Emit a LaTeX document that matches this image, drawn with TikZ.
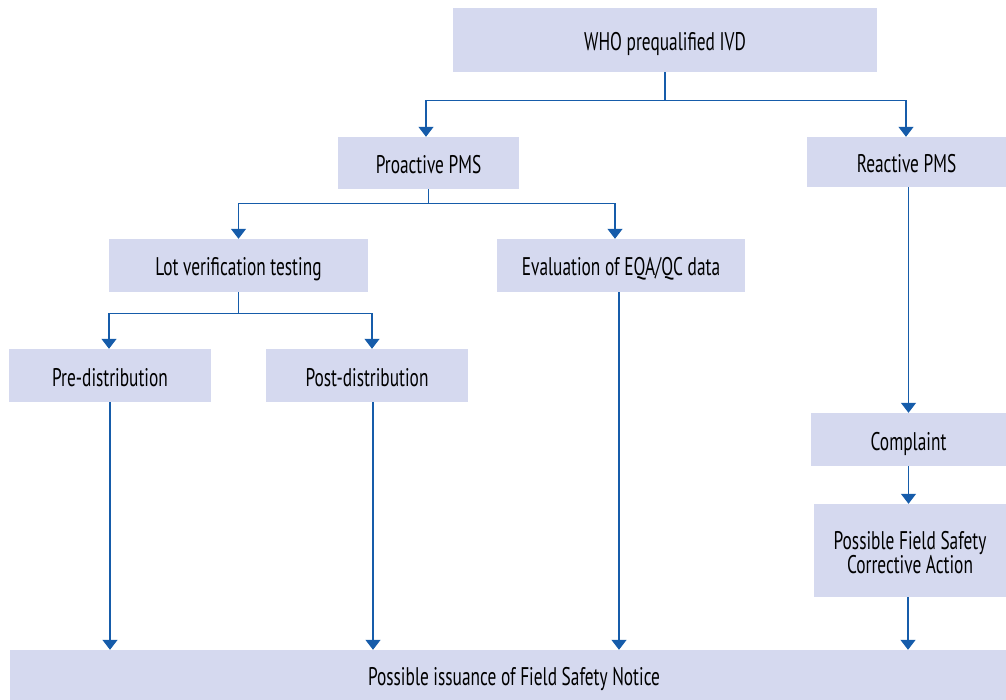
\documentclass[tikz,border=0pt]{standalone}
\usepackage{fontspec}
\setmainfont{PT Sans}[FakeStretch=0.68]
\usetikzlibrary{arrows.meta}
\definecolor{boxfill}{RGB}{213,217,239}
\definecolor{linecol}{RGB}{22,92,170}
\tikzset{
  box/.style={fill=boxfill, draw=none, inner sep=0pt, align=center,
    font=\fontsize{25.5}{24}\selectfont, text=black,
    text height=21pt, text depth=0pt},
  conn/.style={draw=linecol, line width=1.3pt},
  arr/.style={conn, -{Triangle[width=15pt,length=10pt]}, shorten >=0pt},
}
\begin{document}
\begin{tikzpicture}[x=1pt,y=-1pt]
\useasboundingbox (0,0) rectangle (1006,700);
\node[box, minimum width=424pt, minimum height=64pt] (who) at (665,40) {WHO prequalified IVD};
\node[box, minimum width=181pt, minimum height=52pt] (pro) at (428.5,163) {Proactive PMS};
\node[box, minimum width=199pt, minimum height=50pt] (rea) at (906.5,162) {Reactive PMS};
\node[box, minimum width=259pt, minimum height=53pt] (lot) at (238.5,265.5) {Lot verification testing};
\node[box, minimum width=248pt, minimum height=53pt] (eva) at (621,265.5) {Evaluation of EQA/QC data};
\node[box, minimum width=202pt, minimum height=53pt] (pre) at (110,375.5) {Pre-distribution};
\node[box, minimum width=202pt, minimum height=53pt] (post) at (367,375.5) {Post-distribution};
\node[box, minimum width=195pt, minimum height=53pt] (comp) at (908.5,439.5) {Complaint};
\node[box, minimum width=192pt, minimum height=93pt, text height=45pt] (fsca) at (910,550.5) {Possible Field Safety\\Corrective Action};
\node[box, minimum width=996pt, minimum height=50pt] (bot) at (508,675) {\hspace*{12pt}Possible issuance of Field Safety Notice};
% top level
\draw[conn] (who.south) -- ++(0,28) coordinate (j1);
\draw[arr] (j1) -| ([xshift=-2.5pt]pro.north);
\draw[arr] (j1) -| ([xshift=-0.5pt]rea.north);
% proactive
\draw[conn] (pro.south) -- ++(0,14) coordinate (j2);
\draw[arr] (j2) -| (lot.north);
\draw[arr] (j2) -| ([xshift=-6pt]eva.north);
% lot
\draw[conn] (lot.south) -- ++(0,21) coordinate (j3);
\draw[arr] (j3) -| ([xshift=-1pt]pre.north);
\draw[arr] (j3) -| ([xshift=5pt]post.north);
% down to bottom
\draw[arr] (pre.south) -- (pre.south |- bot.north);
\draw[arr] ([xshift=6pt]post.south) -- ([xshift=6pt]post.south |- bot.north);
\draw[arr] ([xshift=-2pt]eva.south) -- ([xshift=-2pt]eva.south |- bot.north);
\draw[arr] (rea.south -| comp.north) -- (comp.north);
\draw[arr] (comp.south) -- ([xshift=-1.5pt]fsca.north);
\draw[arr] ([xshift=-2pt]fsca.south) -- ([xshift=-2pt]fsca.south |- bot.north);
\end{tikzpicture}
\end{document}
